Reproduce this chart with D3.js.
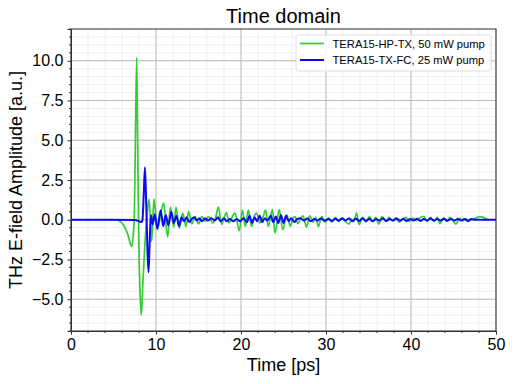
<!DOCTYPE html>
<html>
<head>
<meta charset="utf-8">
<script src="https://cdn.jsdelivr.net/npm/d3@7"></script>
<style>
  body { margin: 0; background: #fff; }
  svg { font-family: 'Liberation Sans', Arial, sans-serif; }
</style>
</head>
<body>
<div id="chartArea"></div>
<script>
// series: [time ps, amplitude a.u.]
const hpTx = [
  [0, 0], [5.0, 0], [5.6, -0.05], [6.2, -0.35], [6.7, -0.95], [7.14, -1.68], [7.3, -1.1], [7.45, 0.2],
  [7.6, 6.0], [7.73, 10.2], [7.85, 4.5], [7.97, -1.0], [8.12, -4.5], [8.27, -6.0], [8.45, -4.0],
  [8.7, -1.5], [8.95, 0.3], [9.18, 1.3], [9.49, -1.36], [9.76, 1.3], [10.16, -0.63], [10.5, 0.2],
  [10.9, 1.05], [11.37, -1.09], [11.69, 0.8], [12.08, -0.46], [12.35, 0.8], [12.75, -0.52],
  [13.14, 0.42], [13.53, -0.42], [13.84, 0.52], [14.2, -0.25], [14.6, 0.2], [15.0, -0.25],
  [15.4, 0.2], [15.8, -0.1], [16.16, 0.2], [16.67, -0.2], [17.0, 0.1], [17.33, 0.8], [17.73, -0.3],
  [18.0, 0.1], [18.3, 0.45], [18.6, -0.2], [18.9, 0.1], [19.3, 0.42], [19.8, -0.7], [20.16, 0.6],
  [20.5, -0.42], [20.86, 0.6], [21.25, -0.42], [21.55, 0.2], [21.84, 0.42], [22.2, -0.2],
  [22.55, 0.1], [22.9, 0.6], [23.2, -0.42], [23.7, 0.63], [24.0, -0.84], [24.5, 0.63], [24.9, -0.63],
  [25.4, 0.3], [25.8, -0.42], [26.1, 0.1], [26.35, 0.2], [26.7, -0.25], [27.0, 0.1], [27.3, 0.25],
  [27.7, -0.46], [28.1, 0.25], [28.5, -0.15], [28.8, 0.15], [29.1, -0.42], [29.5, 0.2], [29.9, -0.15],
  [30.3, 0.12], [30.7, -0.15], [31.1, 0.15], [31.5, -0.1], [31.9, 0.12], [32.3, -0.12], [32.7, -0.27],
  [33.0, 0.05], [33.3, -0.1], [33.6, 0.42], [33.9, -0.3], [34.3, 0.15], [34.7, -0.15], [35.1, 0.2],
  [35.5, -0.1], [35.85, 0.15], [36.2, -0.27], [36.6, 0.2], [37.0, -0.1], [37.4, 0.15], [37.8, -0.05],
  [38.2, 0.12], [38.6, -0.15], [39.0, 0.05], [39.4, 0.15], [39.8, -0.1], [40.2, 0.1], [40.6, -0.05],
  [41.0, 0.1], [41.5, 0.22], [41.9, -0.1], [42.3, 0.15], [42.7, -0.1], [43.1, 0.15], [43.4, -0.25],
  [43.8, 0.1], [44.2, -0.1], [44.6, 0.15], [45.0, -0.1], [45.3, -0.27], [45.7, 0.1], [46.1, -0.05],
  [46.5, 0.05], [46.9, -0.05], [47.3, 0.05], [47.7, 0.12], [48.1, 0.2], [48.5, 0.15], [48.9, 0.05],
  [49.1, -0.05]
]

const txFc = [
  [0, 0], [5.0, 0], [7.5, -0.02], [8.0, -0.1], [8.25, -0.15], [8.4, -0.05], [8.55, 1.5], [8.7, 3.3],
  [8.85, 1.0], [9.0, -2.0], [9.12, -3.3], [9.25, -1.5], [9.4, 0.3], [9.6, -0.3], [9.85, 0.35],
  [10.15, -0.55], [10.55, 0.6], [10.85, -0.4], [11.15, 0.3], [11.45, -0.35], [11.8, 0.5], [12.1, -0.2],
  [12.4, 0.25], [12.7, -0.4], [13.0, 0.15], [13.3, -0.1], [13.6, 0.15], [13.9, -0.15], [14.2, 0.05],
  [14.5, 0.15], [14.8, -0.05], [15.1, 0.1], [15.4, -0.1], [15.8, 0.1], [16.1, -0.05], [16.5, 0.1],
  [16.9, -0.05], [17.3, 0.15], [17.6, -0.1], [18.0, 0.1], [18.3, -0.1], [18.7, 0.05], [19.1, -0.1],
  [19.5, 0.05], [19.9, -0.1], [20.3, 0.1], [20.7, -0.15], [21.0, 0.25], [21.3, -0.2], [21.6, 0.15],
  [21.9, -0.1], [22.2, 0.25], [22.5, -0.15], [22.8, 0.1], [23.1, -0.05], [23.5, 0.25], [23.8, -0.15],
  [24.1, 0.2], [24.4, -0.2], [24.7, 0.3], [25.0, -0.2], [25.3, 0.25], [25.6, -0.1], [25.9, 0.1],
  [26.3, -0.15], [26.6, 0.05], [27.0, 0.1], [27.4, -0.05], [27.8, 0.1], [28.2, -0.1], [28.6, 0.05],
  [29.0, -0.05], [29.4, 0.08], [29.8, -0.06], [30.3, 0.05], [30.7, -0.08], [31.1, 0.06], [31.5, -0.06],
  [31.9, 0.08], [32.3, -0.05], [32.7, 0.1], [33.1, -0.1], [33.5, 0.08], [33.9, -0.08], [34.3, 0.1],
  [34.7, -0.08], [35.1, 0.06], [35.5, -0.1], [35.9, 0.05], [36.3, -0.05], [36.7, 0.1], [37.1, -0.08],
  [37.5, 0.05], [37.9, -0.06], [38.3, 0.08], [38.7, -0.05], [39.1, 0.05], [39.5, -0.08], [39.9, 0.05],
  [40.3, -0.05], [40.7, 0.06], [41.1, -0.08], [41.5, 0.05], [41.9, -0.05], [42.3, 0.08], [42.7, -0.05],
  [43.1, 0.05], [43.5, -0.05], [43.9, 0.06], [44.3, -0.06], [44.7, 0.05], [45.1, -0.05], [45.5, 0.05],
  [45.9, -0.05], [46.3, 0.04], [46.7, -0.08], [47.1, 0.04], [47.5, 0], [50, 0]
]

const seriesNames = ['TERA15-HP-TX, 50 mW pump', 'TERA15-TX-FC, 25 mW pump']
const seriesColors = ['#33cc33', '#0a0af5']
const seriesWidths = [1.7, 2]

const xTicks = [0, 10, 20, 30, 40, 50]
const yTicks = [-5.0, -2.5, 0.0, 2.5, 5.0, 7.5, 10.0]
const xMinor = d3.range(0, 50.01, 2)
const yMinor = d3.range(-7, 12.01, 0.5)

const width = 514
const height = 384
const margin = { top: 29, right: 18, bottom: 53, left: 71 }
const innerWidth = width - margin.left - margin.right
const innerHeight = height - margin.top - margin.bottom

const svg = d3.select('#chartArea')
  .append('svg')
  .attr('width', width)
  .attr('height', height)

const xScale = d3.scaleLinear().domain([0, 50]).range([0, innerWidth])
const yScale = d3.scaleLinear().domain([-7, 12]).range([innerHeight, 0])

const plotG = svg.append('g')
  .attr('transform', `translate(${margin.left},${margin.top})`)

// minor grid
plotG.append('g').selectAll('line')
  .data(xMinor)
  .join('line')
  .attr('x1', d => xScale(d)).attr('x2', d => xScale(d))
  .attr('y1', 0).attr('y2', innerHeight)
  .attr('stroke', '#ebebeb').attr('stroke-width', 0.8)

plotG.append('g').selectAll('line')
  .data(yMinor)
  .join('line')
  .attr('y1', d => yScale(d)).attr('y2', d => yScale(d))
  .attr('x1', 0).attr('x2', innerWidth)
  .attr('stroke', '#ebebeb').attr('stroke-width', 0.8)

// major grid
plotG.append('g').selectAll('line')
  .data(xTicks)
  .join('line')
  .attr('x1', d => xScale(d)).attr('x2', d => xScale(d))
  .attr('y1', 0).attr('y2', innerHeight)
  .attr('stroke', '#bdbdbd').attr('stroke-width', 1)

plotG.append('g').selectAll('line')
  .data(yTicks)
  .join('line')
  .attr('y1', d => yScale(d)).attr('y2', d => yScale(d))
  .attr('x1', 0).attr('x2', innerWidth)
  .attr('stroke', '#bdbdbd').attr('stroke-width', 1)

// clip for the traces
svg.append('defs').append('clipPath').attr('id', 'clip')
  .append('rect').attr('width', innerWidth).attr('height', innerHeight)

const line = d3.line()
  .x(d => xScale(d[0]))
  .y(d => yScale(d[1]))
  .curve(d3.curveMonotoneX)

const traces = plotG.append('g').attr('clip-path', 'url(#clip)')
traces.selectAll('path')
  .data([hpTx, txFc])
  .join('path')
  .attr('d', line)
  .attr('fill', 'none')
  .attr('stroke', (d, i) => seriesColors[i])
  .attr('stroke-width', (d, i) => seriesWidths[i])
  .attr('stroke-linejoin', 'round')

// minor ticks (outward, no labels)
plotG.append('g').selectAll('line')
  .data(xMinor.filter(d => d % 10 !== 0))
  .join('line')
  .attr('x1', d => xScale(d)).attr('x2', d => xScale(d))
  .attr('y1', innerHeight).attr('y2', innerHeight + 2)
  .attr('stroke', '#333')

plotG.append('g').selectAll('line')
  .data(yMinor.filter(d => d % 2.5 !== 0))
  .join('line')
  .attr('y1', d => yScale(d)).attr('y2', d => yScale(d))
  .attr('x1', 0).attr('x2', -2)
  .attr('stroke', '#333')

// major axes
plotG.append('g')
  .attr('transform', `translate(0,${innerHeight})`)
  .call(d3.axisBottom(xScale).tickValues(xTicks).tickFormat(d3.format('d')).tickSize(3.5).tickPadding(4))

plotG.append('g')
  .call(d3.axisLeft(yScale).tickValues(yTicks).tickFormat(d => d3.format('.1f')(d).replace('-', '\u2212')).tickSize(3.5).tickPadding(4))

svg.selectAll('.tick text')
  .attr('font-size', 16)
  .attr('font-family', "'Liberation Sans', Arial, sans-serif")
  .attr('fill', '#000')
svg.selectAll('.tick line').attr('stroke', '#333')
svg.selectAll('.domain').attr('stroke', '#333')

// frame
plotG.append('rect')
  .attr('width', innerWidth)
  .attr('height', innerHeight)
  .attr('fill', 'none')
  .attr('stroke', '#333')
  .attr('stroke-width', 1)

// title and labels
svg.append('text')
  .attr('x', margin.left + innerWidth / 2)
  .attr('y', 22.5)
  .attr('text-anchor', 'middle')
  .attr('font-size', 20)
  .text('Time domain')

svg.append('text')
  .attr('x', margin.left + innerWidth / 2)
  .attr('y', 371)
  .attr('text-anchor', 'middle')
  .attr('font-size', 18)
  .text('Time [ps]')

svg.append('text')
  .attr('transform', `translate(22,${margin.top + innerHeight / 2}) rotate(-90)`)
  .attr('text-anchor', 'middle')
  .attr('font-size', 18)
  .text('THz E-field Amplitude [a.u.]')

// legend
const legend = svg.append('g').attr('transform', 'translate(296,35)')
legend.append('rect')
  .attr('width', 195)
  .attr('height', 36)
  .attr('rx', 2.5)
  .attr('fill', '#fff')
  .attr('fill-opacity', 0.85)
  .attr('stroke', '#d6d6d6')
  .attr('stroke-width', 0.8)

const legendItems = legend.selectAll('g.item')
  .data(seriesNames)
  .join('g')
  .attr('class', 'item')
  .attr('transform', (d, i) => `translate(0,${8.5 + i * 16.5})`)

legendItems.append('line')
  .attr('x1', 4).attr('x2', 28)
  .attr('stroke', (d, i) => seriesColors[i])
  .attr('stroke-width', (d, i) => seriesWidths[i])

legendItems.append('text')
  .attr('x', 36.5)
  .attr('y', 4)
  .attr('font-size', 11.2)
  .text(d => d)
</script>
</body>
</html>
